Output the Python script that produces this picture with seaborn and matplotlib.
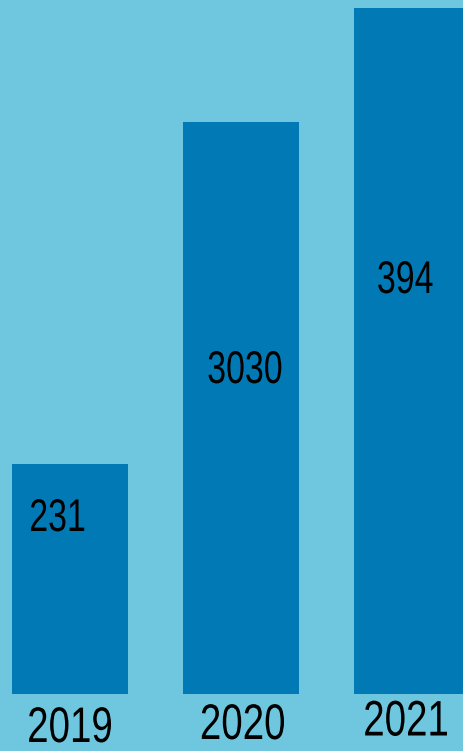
import matplotlib
matplotlib.use("Agg")
import matplotlib.pyplot as plt
import matplotlib.patheffects as pe
from matplotlib.transforms import Affine2D
import seaborn as sns
import pandas as pd

# values (bar heights in pixels, labels as printed)
years = ["2019", "2020", "2021"]
bar_heights = [230, 572, 686]
value_labels = ["231", "3030", "394"]

# where the printed labels sit (x offset from bar centre, y in bar units)
label_dx = [-0.073, 0.023, -0.04]
label_y = [175, 323, 413]
year_dx = [0.0, 0.01, -0.035]
year_y = [-35, -32, -28.5]

bg = "#6FC7DF"
bar_color = "#0079B4"


class SqueezeX(pe.AbstractPathEffect):
    # the reference uses a condensed face; squeeze glyphs round the text centre
    def __init__(self, cx, sx):
        super().__init__()
        self.cx, self.sx = cx, sx

    def draw_path(self, renderer, gc, tpath, affine, rgbFace=None):
        squeeze = Affine2D().translate(-self.cx, 0).scale(self.sx, 1).translate(self.cx, 0)
        renderer.draw_path(gc, tpath, affine + squeeze, rgbFace)


sns.set_theme(style="white")
plt.rcParams["font.family"] = ["Liberation Sans", "DejaVu Sans"]

df = pd.DataFrame({"year": years, "height": bar_heights})

fig = plt.figure(figsize=(4.64, 7.51), dpi=100)
fig.patch.set_facecolor(bg)
ax = fig.add_axes([0, 57 / 751, 1, 694 / 751])
ax.set_facecolor(bg)

sns.barplot(data=df, x="year", y="height", color=bar_color, saturation=1,
            width=0.68, linewidth=0, ax=ax)

ax.set_xlim(-70 / 171, (464 - 70) / 171)
ax.set_ylim(0, 694)
ax.set_yticks([])
ax.set_xticks([])
ax.set_xlabel("")
ax.set_ylabel("")
for s in ax.spines.values():
    s.set_visible(False)


def squeezed_text(x, y, s, size, sx):
    cx = ax.transData.transform((x, y))[0]
    ax.text(x, y, s, ha="center", va="center", fontsize=size, color="black",
            clip_on=False, path_effects=[SqueezeX(cx, sx)])


for i, txt in enumerate(value_labels):
    squeezed_text(i + label_dx[i], label_y[i], txt, 33, 0.74)

for i, yr in enumerate(years):
    squeezed_text(i + year_dx[i], year_y[i], yr, 36, 0.77)

fig.savefig("out.png", dpi=100, facecolor=bg)
